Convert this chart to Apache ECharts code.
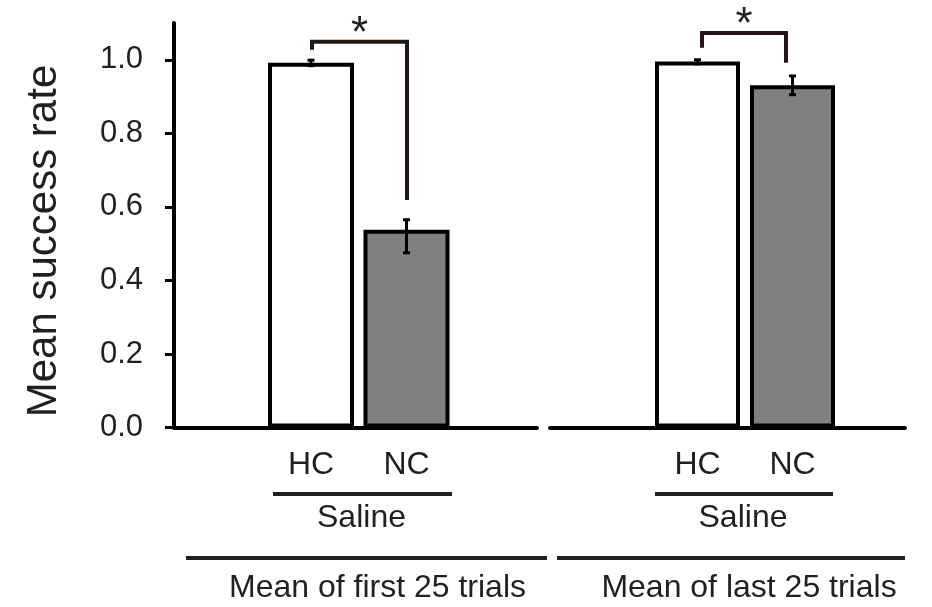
<!DOCTYPE html>
<html><head><meta charset="utf-8">
<script src="https://cdn.jsdelivr.net/npm/echarts@6/dist/echarts.min.js"></script>
<style>html,body{margin:0;padding:0;background:#fff}#c{width:932px;height:607px}</style>
</head><body><div id="c"></div>
<script>
// ---- data ----
const categories = ['HC', 'NC'];
const firstMeans = [0.992, 0.538];
const lastMeans = [0.995, 0.931];
const firstErrLow = [0.984, 0.475];
const firstErrHigh = [0.999, 0.565];
const lastErrLow = [0.989, 0.905];
const lastErrHigh = [1.000, 0.956];
const yTicks = [0, 0.2, 0.4, 0.6, 0.8, 1.0];
// [left-leg end, bracket height, right-leg end]
const bracketFirst = [1.027, 1.049, 0.619];
const bracketLast = [1.033, 1.073, 0.992];
const sigMark = '*';
const groupLabel = 'Saline';
const panelLabels = ['Mean of first 25 trials', 'Mean of last 25 trials'];
const yName = 'Mean success rate';

// ---- style ----
const FONT = '"Liberation Sans", Arial, Helvetica, sans-serif';
const TXT = '#231f20';
const fills = ['#ffffff', '#808080'];
const YMAX = 1.1;
const TOP = 23, H = 404.5;

const chart = echarts.init(document.getElementById('c'), null, {renderer: 'canvas'});

function errRender(params, api) {
  const p1 = api.coord([api.value(0), api.value(1)]);
  const p2 = api.coord([api.value(0), api.value(2)]);
  const x = p1[0], hw = 3.5;
  const st = {stroke: '#000', lineWidth: 3};
  return {type: 'group', children: [
    {type: 'line', shape: {x1: x, y1: p1[1], x2: x, y2: p2[1]}, style: st},
    {type: 'line', shape: {x1: x - hw, y1: p1[1], x2: x + hw, y2: p1[1]}, style: st},
    {type: 'line', shape: {x1: x - hw, y1: p2[1], x2: x + hw, y2: p2[1]}, style: st}
  ]};
}
function bracketRender(dxL, dxR) {
  return function (params, api) {
    const a = api.coord([0, api.value(0)]);
    const b = api.coord([0, api.value(1)]);
    const c = api.coord([1, api.value(2)]);
    const xl = a[0] + dxL, xr = c[0] + dxR, yt = b[1];
    const st = {stroke: '#231815', lineWidth: 4, fill: null, lineJoin: 'miter'};
    return {type: 'group', children: [
      {type: 'polyline', shape: {points: [[xl, a[1]], [xl, yt], [xr, yt], [xr, c[1]]]}, style: st},
      {type: 'text', style: {text: sigMark, x: (xl + xr) / 2, y: yt - 7, align: 'center', verticalAlign: 'middle',
        font: '44px ' + FONT, fill: TXT}}
    ]};
  };
}

const hiddenY = (gi) => ({type: 'value', gridIndex: gi, min: 0, max: YMAX, show: false, splitLine: {show: false}});
const barX = (gi) => ({type: 'category', gridIndex: gi, data: categories,
  axisLine: {show: false}, axisTick: {show: false}, splitLine: {show: false},
  axisLabel: {fontSize: 32, fontFamily: FONT, color: TXT, margin: 22}});
const frameX = (gi) => ({type: 'category', gridIndex: gi, data: [''], offset: 2,
  axisLine: {show: true, lineStyle: {color: '#000', width: 4}}, axisTick: {show: false}, axisLabel: {show: false}});

const option = {
  animation: false,
  backgroundColor: '#fff',
  grid: [
    {left: 174, top: TOP, width: 363, height: H},
    {left: 550, top: TOP, width: 355, height: H},
    {left: 263.25, top: TOP, width: 191, height: H},
    {left: 650, top: TOP, width: 190, height: H}
  ],
  xAxis: [frameX(0), frameX(1), barX(2), barX(3)],
  yAxis: [
    {type: 'value', gridIndex: 0, min: 0, max: YMAX,
      axisLine: {show: true, lineStyle: {color: '#000', width: 4}},
      axisTick: {show: true, length: 9, inside: false, customValues: yTicks, lineStyle: {color: '#000', width: 3}},
      axisLabel: {customValues: yTicks, margin: 31, fontSize: 31, fontFamily: FONT, color: TXT,
        formatter: (v) => v.toFixed(1)},
      splitLine: {show: false}},
    hiddenY(1), hiddenY(2), hiddenY(3)
  ],
  series: [
    {type: 'bar', xAxisIndex: 2, yAxisIndex: 2, barWidth: 86,
      data: firstMeans.map((v, i) => ({value: v, itemStyle: {color: fills[i]}})),
      itemStyle: {borderColor: '#000', borderWidth: 4}},
    {type: 'bar', xAxisIndex: 3, yAxisIndex: 3, barWidth: 85,
      data: lastMeans.map((v, i) => ({value: v, itemStyle: {color: fills[i]}})),
      itemStyle: {borderColor: '#000', borderWidth: 4}},
    {type: 'custom', xAxisIndex: 2, yAxisIndex: 2, z: 5, clip: false, renderItem: errRender,
      encode: {x: 0, y: [1, 2]},
      data: categories.map((c, i) => [i, firstErrLow[i], firstErrHigh[i]])},
    {type: 'custom', xAxisIndex: 3, yAxisIndex: 3, z: 5, clip: false, renderItem: errRender,
      encode: {x: 0, y: [1, 2]},
      data: categories.map((c, i) => [i, lastErrLow[i], lastErrHigh[i]])},
    {type: 'custom', xAxisIndex: 2, yAxisIndex: 2, z: 6, clip: false, renderItem: bracketRender(1, 0.5),
      encode: {y: [0, 1, 2]}, data: [bracketFirst]},
    {type: 'custom', xAxisIndex: 3, yAxisIndex: 3, z: 6, clip: false, renderItem: bracketRender(4.5, -6.5),
      encode: {y: [0, 1, 2]}, data: [bracketLast]}
  ],
  graphic: [
    {type: 'text', x: 44, y: 241, rotation: Math.PI / 2,
      style: {text: yName, font: '42px ' + FONT, fill: TXT, align: 'center', verticalAlign: 'middle'}},
    {type: 'line', shape: {x1: 273, y1: 494, x2: 452, y2: 494}, style: {stroke: TXT, lineWidth: 4}},
    {type: 'line', shape: {x1: 655, y1: 494, x2: 833, y2: 494}, style: {stroke: TXT, lineWidth: 4}},
    {type: 'text', x: 361.5, y: 518, style: {text: groupLabel, font: '32px ' + FONT, fill: TXT, align: 'center', verticalAlign: 'middle'}},
    {type: 'text', x: 743, y: 518, style: {text: groupLabel, font: '32px ' + FONT, fill: TXT, align: 'center', verticalAlign: 'middle'}},
    {type: 'line', shape: {x1: 186, y1: 558, x2: 547, y2: 558}, style: {stroke: TXT, lineWidth: 4}},
    {type: 'line', shape: {x1: 557, y1: 558, x2: 905, y2: 558}, style: {stroke: TXT, lineWidth: 4}},
    {type: 'text', x: 377.5, y: 588, style: {text: panelLabels[0], font: '32px ' + FONT, fill: TXT, align: 'center', verticalAlign: 'middle'}},
    {type: 'text', x: 749, y: 588, style: {text: panelLabels[1], font: '32px ' + FONT, fill: TXT, align: 'center', verticalAlign: 'middle'}}
  ]
};
chart.setOption(option);
</script></body></html>
